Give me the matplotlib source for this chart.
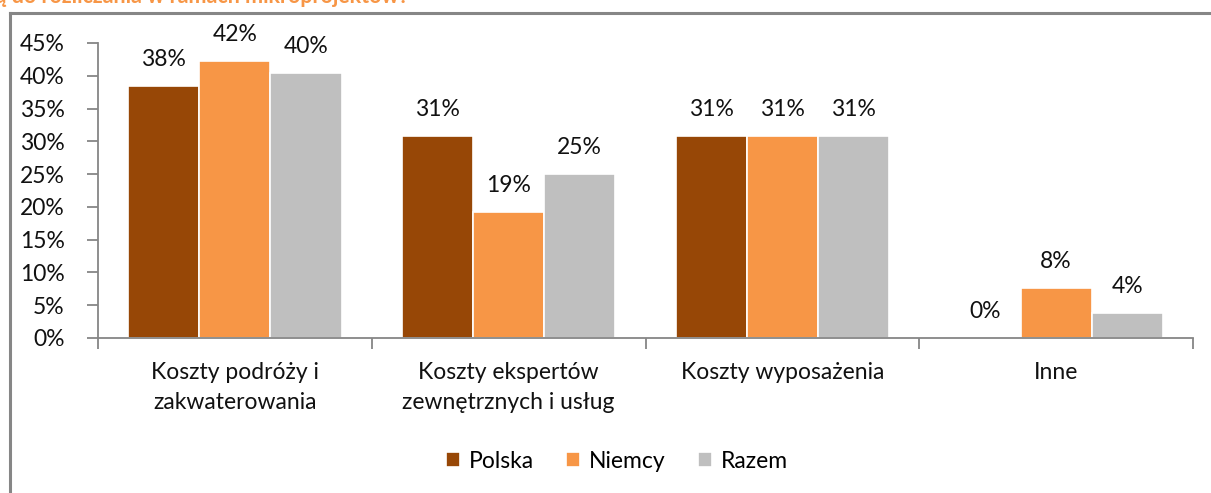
import matplotlib
matplotlib.use("Agg")
import matplotlib.pyplot as plt
from matplotlib.lines import Line2D
from matplotlib.ticker import FixedLocator, PercentFormatter
import numpy as np

categories = ["Koszty podróży i\nzakwaterowania",
              "Koszty ekspertów\nzewnętrznych i usług",
              "Koszty wyposażenia",
              "Inne"]
series_names = ["Polska", "Niemcy", "Razem"]
polska = [38.5, 30.8, 30.8, 0.0]
niemcy = [42.3, 19.2, 30.8, 7.7]
razem = [40.4, 25.0, 30.8, 3.8]
labels_polska = ["38%", "31%", "31%", "0%"]
labels_niemcy = ["42%", "19%", "31%", "8%"]
labels_razem = ["40%", "25%", "31%", "4%"]
title_text = "są do rozliczania w ramach mikroprojektów?"

colors = ["#974706", "#F79646", "#BFBFBF"]
plt.rcParams['font.family'] = ['Lato', 'DejaVu Sans']
FS = 16.5

fig = plt.figure(figsize=(12.11, 4.93), dpi=100)
W, H = 1211, 493

# outer border (top & left visible)
fig.lines.append(Line2D([10 / W, 1.05], [(H - 12.5) / H] * 2, transform=fig.transFigure,
                        color="#868686", linewidth=2.2))
fig.lines.append(Line2D([10 / W] * 2, [(H - 12.5) / H, -0.05], transform=fig.transFigure,
                        color="#868686", linewidth=2.2))
# clipped title (only its lower part shows, as in the reference)
fig.text(-14 / W, (H - 3) / H, title_text, color="#F79646", fontsize=15.5,
         fontweight="bold", ha="left", va="baseline")

ax = fig.add_axes([98 / W, (H - 338) / H, (1193 - 98) / W, (338 - 43) / H])
x = np.arange(len(categories))
bw = 0.26
all_series = [polska, niemcy, razem]
all_labels = [labels_polska, labels_niemcy, labels_razem]
for i, (vals, labs) in enumerate(zip(all_series, all_labels)):
    pos = x + (i - 1) * bw
    ax.bar(pos, vals, width=bw, color=colors[i], edgecolor="white",
           linewidth=1.2, label=series_names[i], zorder=2)
    for xp, v, lab in zip(pos, vals, labs):
        ax.text(xp, v + 2.4, lab, ha="center", va="bottom", fontsize=FS,
                color="#111111")

ax.set_xlim(-0.5, len(categories) - 0.5)
ax.set_ylim(0, 45)
ax.yaxis.set_major_locator(FixedLocator(np.arange(0, 46, 5)))
ax.yaxis.set_major_formatter(PercentFormatter(decimals=0))
ax.set_xticks(x)
ax.set_xticklabels(categories, fontsize=FS, color="#111111", linespacing=1.55)
ax.set_xticks(np.arange(-0.5, len(categories), 1.0), minor=True)
ax.tick_params(axis="x", which="major", length=0, pad=17)
ax.tick_params(axis="x", which="minor", length=8, color="#868686", width=1.3)
ax.tick_params(axis="y", length=8, color="#868686", width=1.3, labelsize=FS,
               labelcolor="#111111", pad=16)
for s in ["top", "right"]:
    ax.spines[s].set_visible(False)
for s in ["left", "bottom"]:
    ax.spines[s].set_color("#868686")
    ax.spines[s].set_linewidth(1.3)

fig.legend(loc="center", bbox_to_anchor=(617 / W, (H - 461) / H), ncol=3,
           frameon=False, fontsize=FS, handlelength=0.6, handleheight=0.6,
           handletextpad=0.4, columnspacing=1.4)

fig.savefig("out.png", dpi=100)
